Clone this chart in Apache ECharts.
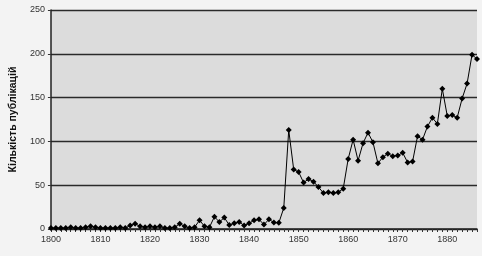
<!DOCTYPE html>
<html>
<head>
<meta charset="utf-8">
<script src="https://cdn.jsdelivr.net/npm/echarts@6/dist/echarts.min.js"></script>
<style>html,body{margin:0;padding:0;background:#f3f3f3;}#c{width:482px;height:256px;}</style>
</head>
<body>
<div id="c"></div>
<script>
const years = [];
for (let y = 1800; y <= 1886; y++) years.push(String(y));
const counts = [
  1, 1, 1, 1, 2, 1, 1, 2, 3, 2,      // 1800-1809
  1, 1, 1, 1, 2, 1, 4, 6, 3, 2,      // 1810-1819
  3, 2, 3, 1, 1, 2, 6, 3, 1, 2,      // 1820-1829
  10, 3, 2, 14, 8, 13, 4.5, 6.5, 8, 4, // 1830-1839
  6.5, 10, 11, 5, 11, 7.5, 7, 24, 113, 68, // 1840-1849
  65, 53, 57, 54, 48, 41, 42, 41, 42, 46, // 1850-1859
  80, 102, 78, 98, 110, 99, 75, 82, 86, 83, // 1860-1869
  84, 87, 76, 77, 106, 102, 117, 127, 120, 160, // 1870-1879
  129, 130, 127, 149, 166, 199, 194  // 1880-1886
];
const yTicks = { min: 0, max: 250, step: 50 };
const yTitle = 'Кількість публікацій';

const chart = echarts.init(document.getElementById('c'), null, { renderer: 'canvas' });
chart.setOption({
  backgroundColor: '#f3f3f3',
  animation: false,
  grid: { left: 46, right: 5, top: 10, bottom: 27, show: true, backgroundColor: '#dcdcdc', borderWidth: 0 },
  xAxis: {
    type: 'category',
    data: years,
    boundaryGap: false,
    axisLine: { lineStyle: { color: '#222', width: 1.5 } },
    axisTick: { show: true, interval: 0, length: 3, lineStyle: { color: '#333' } },
    axisLabel: { interval: 9, color: '#333', fontSize: 9, fontFamily: 'Liberation Sans', margin: 6 },
    splitLine: { show: false }
  },
  yAxis: {
    type: 'value',
    min: yTicks.min, max: yTicks.max, interval: yTicks.step,
    name: yTitle,
    nameLocation: 'middle',
    nameGap: 26,
    nameTextStyle: { fontSize: 10.5, fontWeight: 'bold', color: '#111', fontFamily: 'Liberation Sans' },
    axisLine: { show: true, lineStyle: { color: '#222', width: 1.5 } },
    axisTick: { show: true, length: 3, lineStyle: { color: '#333' } },
    axisLabel: { color: '#333', fontSize: 9, fontFamily: 'Liberation Sans', margin: 6 },
    splitLine: { show: true, lineStyle: { color: '#2a2a2a', width: 1.3 } }
  },
  series: [{
    type: 'line',
    data: counts,
    symbol: 'diamond',
    symbolSize: 6,
    showAllSymbol: true,
    lineStyle: { color: '#000', width: 1 },
    itemStyle: { color: '#000' }
  }]
});
</script>
</body>
</html>
